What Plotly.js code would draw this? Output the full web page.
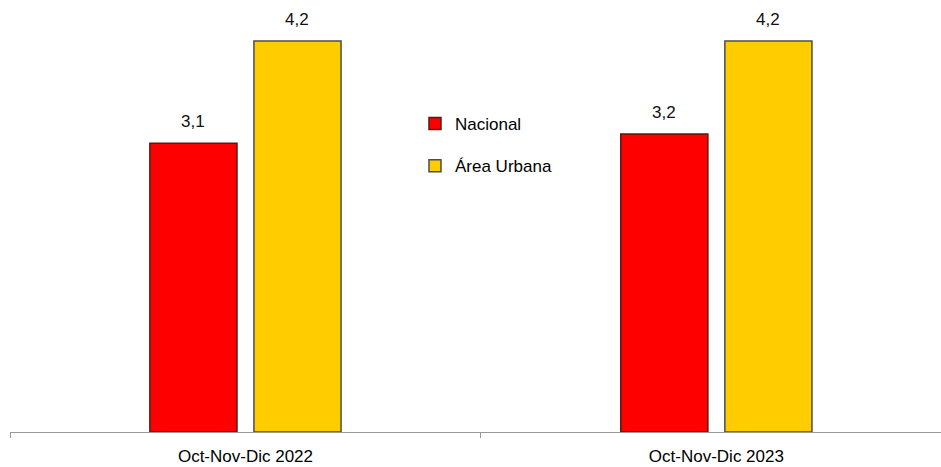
<!DOCTYPE html>
<html><head><meta charset="utf-8">
<script src="https://cdn.plot.ly/plotly-3.0.1.min.js"></script>
<style>html,body{margin:0;padding:0;background:#fff;overflow:hidden}</style>
</head><body>
<div id="chart" style="width:941px;height:467px"></div>
<script>
var categories = ["Oct-Nov-Dic 2022", "Oct-Nov-Dic 2023"];
var nacional = [3.1, 3.2];
var urbana = [4.2, 4.2];
var seriesNames = ["Nacional", "Área Urbana"];

var font = "Liberation Sans, Arial, sans-serif";
var fmt = function(v){ return v.toFixed(1).replace(".", ","); };

var traces = [
  {type:"bar", name:seriesNames[0], x:categories, y:nacional, legendgroup:"a",
   marker:{color:"#FF0000", line:{color:"#5a1a10", width:1.5}}, hoverinfo:"none"},
  {type:"bar", name:seriesNames[1], x:categories, y:urbana, legendgroup:"b",
   marker:{color:"#FFCC00", line:{color:"#4d4d4d", width:1.5}}, hoverinfo:"none"}
];

var annotations = [];
[nacional, urbana].forEach(function(vals, s){
  vals.forEach(function(v, j){
    annotations.push({x:categories[j], y:v, xref:"x", yref:"y", text:fmt(v),
      showarrow:false, yanchor:"bottom", yshift:10, xshift:(s===0?-52:52),
      font:{family:font, size:17, color:"#111"}});
  });
});

var layout = {
  width:941, height:467,
  margin:{l:10, r:0, t:13, b:35},
  paper_bgcolor:"#fff", plot_bgcolor:"#fff",
  separators:",.",
  barmode:"group", bargap:0.558, bargroupgap:0.163,
  showlegend:true,
  legend:{x:0.435, y:0.778, xanchor:"left", yanchor:"top", traceorder:"grouped",
          tracegroupgap:17, font:{family:font, size:17, color:"#000"},
          bgcolor:"rgba(0,0,0,0)", itemwidth:30},
  annotations:annotations,
  xaxis:{type:"category", range:[-0.5, 1.477], tickson:"boundaries",
         ticks:"outside", ticklen:5, tickcolor:"#999", showline:true,
         linecolor:"#999", linewidth:1, showgrid:false, zeroline:false,
         tickfont:{family:font, size:17, color:"#000"}, ticklabelstandoff:9,
         fixedrange:true},
  yaxis:{range:[0, 4.5], visible:false, showgrid:false, zeroline:false, fixedrange:true}
};
Plotly.newPlot("chart", traces, layout, {displayModeBar:false, staticPlot:true});
</script>
</body></html>
